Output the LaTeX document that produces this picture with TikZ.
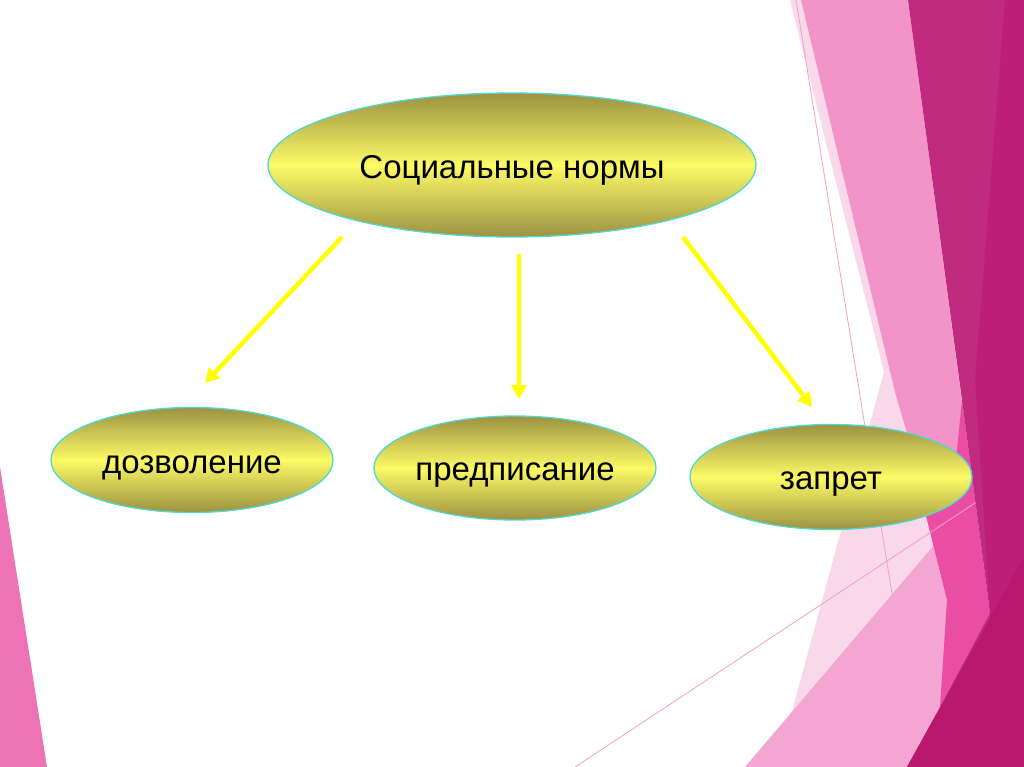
\documentclass[tikz,border=0pt]{standalone}
\usepackage{fontspec}
\setmainfont{Liberation Sans}
\usetikzlibrary{shapes.geometric,arrows.meta}
\definecolor{olive}{HTML}{9C9242}
\definecolor{ylw}{HTML}{FCFA66}
\definecolor{cyanb}{HTML}{4ED8D2}
\definecolor{pale}{HTML}{F9D8EA}
\definecolor{lpink}{HTML}{F294C7}
\definecolor{mpink}{HTML}{F2A6D1}
\definecolor{hpink}{HTML}{EA4DA4}
\definecolor{dmag}{HTML}{C12B7F}
\definecolor{dmag2}{HTML}{BD1E77}
\definecolor{dmag3}{HTML}{B9186F}
\definecolor{lstrip}{HTML}{EE72B6}
\definecolor{thinl}{HTML}{EFA2CB}
\definecolor{arrowy}{HTML}{FFFF00}
\newcommand{\basetext}[2]{\raisebox{-#1}[0pt][0pt]{#2}}
\tikzset{
  oval/.style={ellipse, draw=cyanb, line width=1.3pt, inner sep=0pt,
    top color=olive, bottom color=olive, middle color=ylw,
    font=\fontsize{33}{36}\selectfont},
  yarrow/.style={draw=arrowy, line width=4.5pt, -{Triangle[length=14pt,width=15pt]}},
  thin/.style={draw=thinl, line width=0.8pt}
}
\begin{document}
\begin{tikzpicture}[x=1pt,y=-1pt]
\useasboundingbox (0,0) rectangle (1024,767);
\fill[white] (0,0) rectangle (1024,767);
% left strip
\fill[lstrip] (0,467) -- (47,767) -- (0,767) -- cycle;
% right background facets
\fill[pale] (790,0) -- (884,372) -- (777,767) -- (1024,767) -- (1024,0) -- cycle;
\fill[lpink] (801,0) -- (908,0) -- (975,500) -- (930,512) -- (895,392) -- cycle;
\draw[thin] (796,0) -- (920,767);
\fill[mpink] (745,767) -- (975,497) -- (995,767) -- cycle;
\fill[hpink] (962,400) -- (990,613) -- (940,707) -- (947,600) -- (925,512) -- (955,470) -- cycle;
\fill[dmag] (908,0) -- (1024,0) -- (1024,767) -- (907,767) -- (940,707) -- (990,613) -- (962,400) -- cycle;
\fill[dmag2] (1005,0) -- (1024,0) -- (1024,767) -- (1000,767) -- (975,380) -- cycle;
\fill[dmag3] (907,767) -- (1024,557) -- (1024,767) -- cycle;
\draw[thin] (575,767) -- (975,503);
% nodes
\node[oval, minimum width=488pt, minimum height=144pt] (top) at (512,165) {\basetext{14pt}{Социальные нормы}};
\node[oval, minimum width=282pt, minimum height=105pt] (left) at (192,460) {\basetext{13pt}{дозволение}};
\node[oval, minimum width=282pt, minimum height=104pt] (mid) at (515,468) {\basetext{12pt}{предписание}};
\node[oval, minimum width=282pt, minimum height=105pt] (right) at (831,477) {\basetext{12pt}{запрет}};
% arrow endpoints
\coordinate (a1s) at (342,237);
\coordinate (a1e) at (205,383);
\coordinate (a2s) at (519,254);
\coordinate (a2e) at (519,399);
\coordinate (a3s) at (683,237);
\coordinate (a3e) at (812,407);
\draw[yarrow] (a1s) -- (a1e);
\draw[yarrow] (a2s) -- (a2e);
\draw[yarrow] (a3s) -- (a3e);
\end{tikzpicture}
\end{document}
